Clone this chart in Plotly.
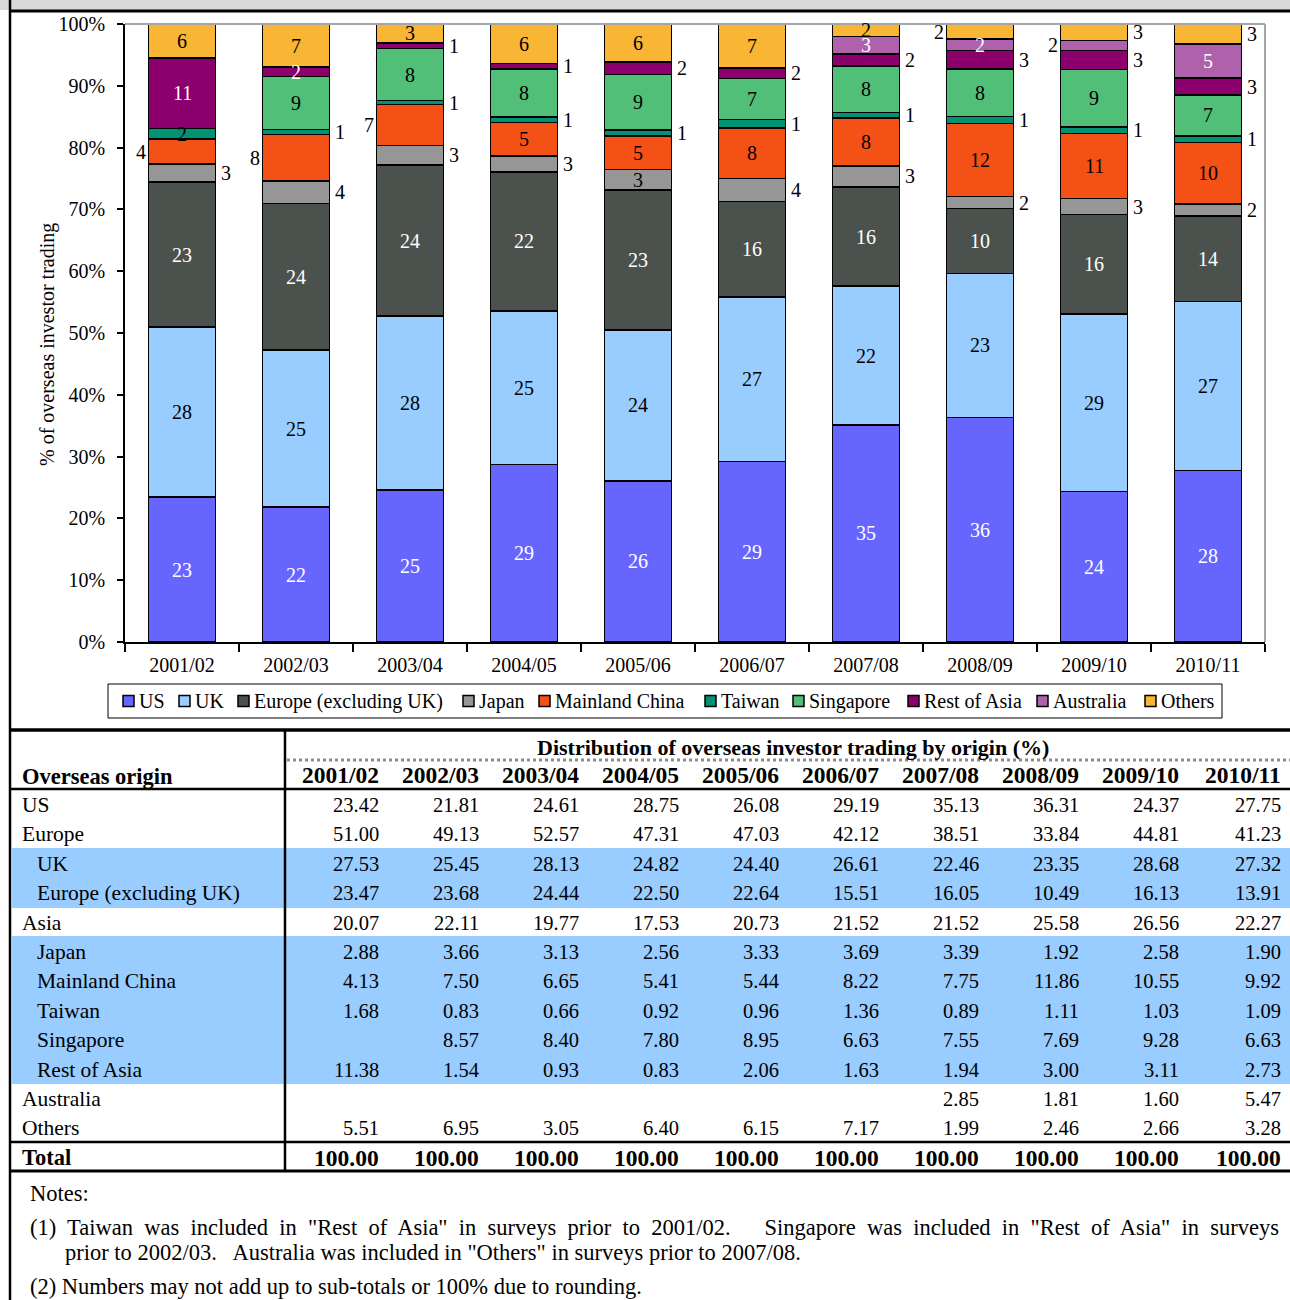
import plotly.graph_objects as go

# ---------------- data ----------------
years = ["2001/02", "2002/03", "2003/04", "2004/05", "2005/06",
         "2006/07", "2007/08", "2008/09", "2009/10", "2010/11"]

us = [23.42, 21.81, 24.61, 28.75, 26.08, 29.19, 35.13, 36.31, 24.37, 27.75]
europe = [51.00, 49.13, 52.57, 47.31, 47.03, 42.12, 38.51, 33.84, 44.81, 41.23]
uk = [27.53, 25.45, 28.13, 24.82, 24.40, 26.61, 22.46, 23.35, 28.68, 27.32]
europe_ex_uk = [23.47, 23.68, 24.44, 22.50, 22.64, 15.51, 16.05, 10.49, 16.13, 13.91]
asia = [20.07, 22.11, 19.77, 17.53, 20.73, 21.52, 21.52, 25.58, 26.56, 22.27]
japan = [2.88, 3.66, 3.13, 2.56, 3.33, 3.69, 3.39, 1.92, 2.58, 1.90]
mainland_china = [4.13, 7.50, 6.65, 5.41, 5.44, 8.22, 7.75, 11.86, 10.55, 9.92]
taiwan = [1.68, 0.83, 0.66, 0.92, 0.96, 1.36, 0.89, 1.11, 1.03, 1.09]
singapore = [None, 8.57, 8.40, 7.80, 8.95, 6.63, 7.55, 7.69, 9.28, 6.63]
rest_of_asia = [11.38, 1.54, 0.93, 0.83, 2.06, 1.63, 1.94, 3.00, 3.11, 2.73]
australia = [None, None, None, None, None, None, 2.85, 1.81, 1.60, 5.47]
others = [5.51, 6.95, 3.05, 6.40, 6.15, 7.17, 1.99, 2.46, 2.66, 3.28]
total = [100.00] * 10

y_ticks = [0, 10, 20, 30, 40, 50, 60, 70, 80, 90, 100]
y_tick_labels = [f"{t}%" for t in y_ticks]

series_names = ["US", "UK", "Europe (excluding UK)", "Japan", "Mainland China",
                "Taiwan", "Singapore", "Rest of Asia", "Australia", "Others"]
series_values = [us, uk, europe_ex_uk, japan, mainland_china,
                 taiwan, singapore, rest_of_asia, australia, others]

# ---------------- style ----------------
colors = ["#6666FF", "#99CCFF", "#4B524D", "#969696", "#F45116",
          "#009273", "#52BF78", "#8C006E", "#AF62AB", "#F9B534"]
inside_font_colors = ["white", "black", "white", "black", "black",
                      "black", "black", "white", "white", "black"]
# label placement: i = inside, l = left of bar, r = right of bar
label_pos = [
    list("iiiiiiiiii"),
    list("iiiiiiiiii"),
    list("iiiiiiiiii"),
    list("rrrrirrrrr"),
    list("llliiiiiii"),
    list("irrrrrrrrr"),
    list("iiiiiiiiii"),
    list("iirrrrrrrr"),
    list("iiiiiiiili"),
    list("iiiiiiilrr"),
]

FONT = "Liberation Serif, Times New Roman, serif"
W, H = 1290, 1300
PL, PR, PT, PB = 125, 1265, 24, 642


def X(px):
    return (px - PL) / (PR - PL)


def Y(py):
    return (PB - py) / (PB - PT)


fig = go.Figure()
for name, vals, col in zip(series_names, series_values, colors):
    fig.add_trace(go.Bar(
        x=years, y=[v if v is not None else 0 for v in vals], name=name,
        marker=dict(color=col, line=dict(color="black", width=1.6)),
        showlegend=False, hoverinfo="x+y+name"))

annotations = []
shapes = []

# bar value labels
base = [0.0] * len(years)
for s, vals in enumerate(series_values):
    for j, v in enumerate(vals):
        if v is None:
            continue
        pos = label_pos[s][j]
        ymid = base[j] + v / 2
        if pos == "i":
            shift, fc = 0, inside_font_colors[s]
        elif pos == "l":
            shift, fc = -41, "black"
        else:
            shift, fc = 44, "black"
        annotations.append(dict(
            x=years[j], y=ymid, xref="x", yref="y", text=f"{v:.0f}",
            showarrow=False, xshift=shift, borderpad=0,
            font=dict(family=FONT, size=20, color=fc)))
        base[j] += v

# y axis title
annotations.append(dict(x=X(47), y=Y(345), xref="paper", yref="paper",
                        text="% of overseas investor trading", textangle=-90,
                        xanchor="center", yanchor="middle",
                        showarrow=False, font=dict(family=FONT, size=20, color="black")))

# plot area top / right border (grey)
shapes.append(dict(type="line", xref="paper", yref="paper", x0=0, x1=1, y0=1, y1=1,
                   line=dict(color="#A6A6A6", width=2)))
shapes.append(dict(type="line", xref="paper", yref="paper", x0=1, x1=1, y0=0, y1=1,
                   line=dict(color="#A6A6A6", width=2)))

# top grey band, frame lines
shapes.append(dict(type="rect", xref="paper", yref="paper", x0=X(0), x1=X(W), y0=Y(0), y1=Y(10),
                   fillcolor="#D9D9D9", line=dict(width=0), layer="below"))
shapes.append(dict(type="line", xref="paper", yref="paper", x0=X(10), x1=X(W), y0=Y(11), y1=Y(11),
                   line=dict(color="black", width=3)))
shapes.append(dict(type="line", xref="paper", yref="paper", x0=X(10), x1=X(10), y0=Y(0), y1=Y(H),
                   line=dict(color="black", width=2.5)))

# ---------------- custom legend ----------------
legend_x = [123, 179, 238, 463, 539, 705, 793, 908, 1037, 1145]
LY = 701
shapes.append(dict(type="rect", xref="paper", yref="paper", x0=X(108), x1=X(1222), y0=Y(684), y1=Y(718),
                   line=dict(color="black", width=1), fillcolor="white"))
for name, col, lx in zip(series_names, colors, legend_x):
    shapes.append(dict(type="rect", xref="paper", yref="paper", x0=X(lx), x1=X(lx + 11),
                       y0=Y(LY - 5.5), y1=Y(LY + 5.5), fillcolor=col,
                       line=dict(color="black", width=1.5)))
    annotations.append(dict(x=X(lx + 14), y=Y(LY), xref="paper", yref="paper", text=name,
                            xanchor="left", yanchor="middle", showarrow=False,
                            font=dict(family=FONT, size=20, color="black")))

# ---------------- table ----------------
for y0, y1 in [(848, 908), (936, 1084)]:
    shapes.append(dict(type="rect", xref="paper", yref="paper", x0=X(12), x1=X(W), y0=Y(y0), y1=Y(y1),
                       fillcolor="#99CCFF", line=dict(width=0), layer="below"))
shapes.append(dict(type="line", xref="paper", yref="paper", x0=X(10), x1=X(W), y0=Y(730), y1=Y(730),
                   line=dict(color="black", width=3.5)))
shapes.append(dict(type="line", xref="paper", yref="paper", x0=X(287), x1=X(W), y0=Y(760), y1=Y(760),
                   line=dict(color="#8C8C8C", width=3, dash="dot")))
shapes.append(dict(type="line", xref="paper", yref="paper", x0=X(10), x1=X(W), y0=Y(789), y1=Y(789),
                   line=dict(color="black", width=2.5)))
shapes.append(dict(type="line", xref="paper", yref="paper", x0=X(10), x1=X(W), y0=Y(1142), y1=Y(1142),
                   line=dict(color="black", width=2.5)))
shapes.append(dict(type="line", xref="paper", yref="paper", x0=X(10), x1=X(W), y0=Y(1171), y1=Y(1171),
                   line=dict(color="black", width=3)))
shapes.append(dict(type="line", xref="paper", yref="paper", x0=X(285), x1=X(285), y0=Y(730), y1=Y(1171),
                   line=dict(color="black", width=2.5)))

annotations.append(dict(x=X(793), y=Y(747), xref="paper", yref="paper",
                        text="<b>Distribution of overseas investor trading by origin (%)</b>",
                        showarrow=False, xanchor="center", yanchor="middle",
                        font=dict(family=FONT, size=22, color="black")))
annotations.append(dict(x=X(20), y=Y(776), xref="paper", yref="paper",
                        text="<b>Overseas origin</b>", showarrow=False, xanchor="left", yanchor="middle",
                        font=dict(family=FONT, size=22.5, color="black")))

col_right = [381 + 100 * j for j in range(len(years))]
col_right[-1] = 1283
for j, yr in enumerate(years):
    annotations.append(dict(x=X(col_right[j]), y=Y(775), xref="paper", yref="paper",
                            text=f"<b>{yr}</b>", showarrow=False, xanchor="right", yanchor="middle",
                            font=dict(family=FONT, size=23.5, color="black")))

table_rows = [
    ("US", us, False, False),
    ("Europe", europe, False, False),
    ("UK", uk, True, False),
    ("Europe (excluding UK)", europe_ex_uk, True, False),
    ("Asia", asia, False, False),
    ("Japan", japan, True, False),
    ("Mainland China", mainland_china, True, False),
    ("Taiwan", taiwan, True, False),
    ("Singapore", singapore, True, False),
    ("Rest of Asia", rest_of_asia, True, False),
    ("Australia", australia, False, False),
    ("Others", others, False, False),
    ("Total", total, False, True),
]
for k, (lab, vals, indent, bold) in enumerate(table_rows):
    ry = 805 + 29.4 * k
    t = f"<b>{lab}</b>" if bold else lab
    annotations.append(dict(x=X(35 if indent else 20), y=Y(ry), xref="paper", yref="paper",
                            text=t, showarrow=False, xanchor="left", yanchor="middle",
                            font=dict(family=FONT, size=22.5 if bold else 21.5, color="black")))
    for j, v in enumerate(vals):
        if v is None:
            continue
        t = f"{v:.2f}"
        if bold:
            t = f"<b>{t}</b>"
        annotations.append(dict(x=X(col_right[j]), y=Y(ry), xref="paper", yref="paper",
                                text=t, showarrow=False, xanchor="right", yanchor="middle",
                                font=dict(family=FONT, size=23.5 if bold else 20.5, color="black")))

# notes
part_a = "(1) Taiwan was included in \"Rest of Asia\" in surveys prior to 2001/02.".replace(" ", "  ")
part_b = "Singapore was included in \"Rest of Asia\" in surveys".replace(" ", "  ")
line1 = part_a + "      " + part_b
notes = [
    (28, 1193, "Notes:"),
    (28, 1227, line1),
    (63, 1252, "prior to 2002/03.   Australia was included in \"Others\" in surveys prior to 2007/08."),
    (28, 1286, "(2) Numbers may not add up to sub-totals or 100% due to rounding."),
]
for nx, ny, nt in notes:
    annotations.append(dict(x=X(nx), y=Y(ny), xref="paper", yref="paper", text=nt,
                            showarrow=False, xanchor="left", yanchor="middle",
                            font=dict(family=FONT, size=22.5, color="black")))

fig.update_layout(
    width=W, height=H,
    margin=dict(l=PL, r=W - PR, t=PT, b=H - PB, pad=0),
    barmode="stack", bargap=0.41,
    plot_bgcolor="white", paper_bgcolor="white",
    font=dict(family=FONT, size=20, color="black"),
    xaxis=dict(type="category", showline=True, linecolor="black", linewidth=1.5,
               ticks="outside", tickson="boundaries", ticklen=8, tickcolor="black",
               tickwidth=1.5, showgrid=False, tickfont=dict(family=FONT, size=20),
               ticklabelstandoff=4),
    yaxis=dict(range=[0, 100], tickmode="array", tickvals=y_ticks, ticktext=y_tick_labels,
               showline=True, linecolor="black", linewidth=1.5, ticks="outside",
               ticklen=6, tickcolor="black", tickwidth=1.5, showgrid=False,
               zeroline=False, tickfont=dict(family=FONT, size=20), ticklabelstandoff=8),
    annotations=annotations, shapes=shapes,
)

fig.write_html("out.html", config={"displayModeBar": False},
               post_script="document.body.style.margin='0';")
